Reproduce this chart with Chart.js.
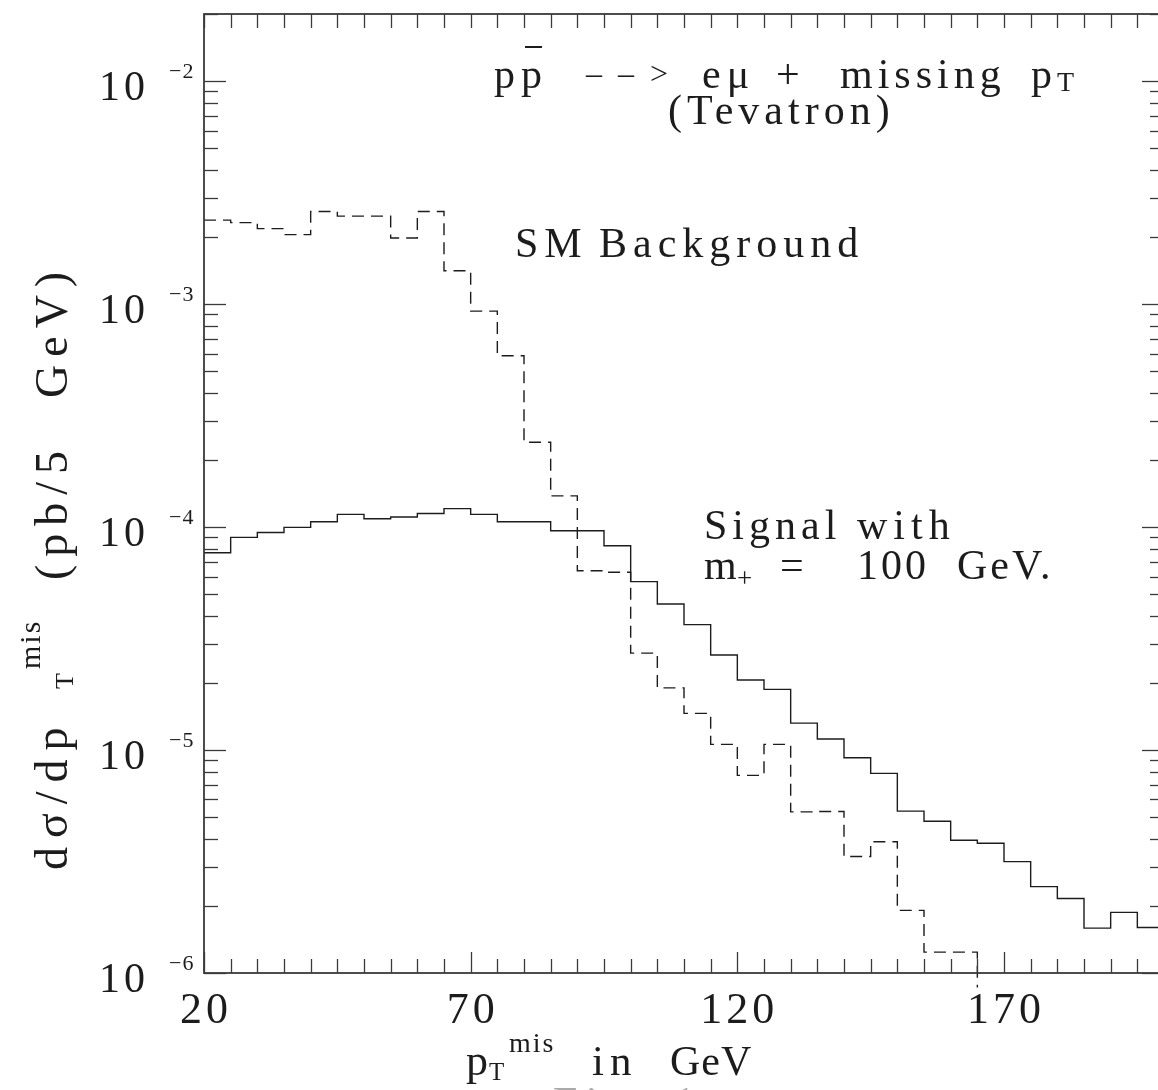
<!DOCTYPE html>
<html>
<head>
<meta charset="utf-8">
<script src="https://cdn.jsdelivr.net/npm/chart.js@4/dist/chart.umd.min.js"></script>
<style>
  html, body { margin: 0; padding: 0; background: #fff; overflow: hidden; }
  #wrap { width: 1180px; height: 1090px; }
</style>
</head>
<body>
<div id="wrap"><canvas id="chart" width="1180" height="1090"></canvas></div>
<script>
// Bins of 5 GeV, left edges
const binStart = [20, 25, 30, 35, 40, 45, 50, 55, 60, 65, 70, 75, 80, 85, 90, 95, 100, 105,
                  110, 115, 120, 125, 130, 135, 140, 145, 150, 155, 160, 165, 170, 175, 180, 185, 190, 195];

// Signal with m+ = 100 GeV (solid)
const signal = [7.67e-5, 8.99e-5, 9.46e-5, 9.97e-5, 1.057e-4, 1.14e-4, 1.09e-4, 1.11e-4, 1.15e-4,
                1.21e-4, 1.14e-4, 1.057e-4, 1.057e-4, 9.63e-5, 9.63e-5, 8.24e-5, 5.69e-5, 4.52e-5,
                3.65e-5, 2.67e-5, 2.06e-5, 1.87e-5, 1.32e-5, 1.12e-5, 9.24e-6, 7.86e-6, 5.32e-6,
                4.79e-6, 3.94e-6, 3.82e-6, 3.16e-6, 2.44e-6, 2.16e-6, 1.59e-6, 1.87e-6, 1.60e-6];

// SM background (dashed), bins 20..160, then it falls below the axis
const background = [2.38e-3, 2.32e-3, 2.18e-3, 2.05e-3, 2.60e-3, 2.48e-3, 2.48e-3, 1.98e-3, 2.60e-3,
                    1.41e-3, 9.3e-4, 5.87e-4, 2.40e-4, 1.38e-4, 6.37e-5, 6.27e-5, 2.72e-5, 1.90e-5,
                    1.46e-5, 1.06e-5, 7.7e-6, 1.06e-5, 5.28e-6, 5.3e-6, 3.33e-6, 3.88e-6, 1.91e-6,
                    1.24e-6, 1.24e-6];
const bgBelowAxis = 8.6e-7;

// Axes
const xMin = 20, xMax = 200, xMinorStep = 5;
const xTickLabels = [20, 70, 120, 170];
const yMin = 1e-6, yMax = 0.02;
const yTickExps = [-2, -3, -4, -5, -6];

const FONT = '"Liberation Serif", "DejaVu Serif", serif';
const INK = '#1c1c1c';

// step points: value holds from left edge to next point
const signalPts = binStart.map((x, i) => ({ x: x, y: signal[i] }));
signalPts.push({ x: xMax, y: signal[signal.length - 1] });
const bgPts = background.map((v, i) => ({ x: binStart[i], y: v }));
bgPts.push({ x: binStart[background.length], y: bgBelowAxis });

function setFont(ctx, size, ls) {
    ctx.font = size + 'px ' + FONT;
    ctx.letterSpacing = (ls || 0) + 'px';
}

function text(ctx, str, x, y, size, ls, align) {
    setFont(ctx, size, ls);
    ctx.textAlign = align || 'left';
    ctx.fillText(str, x, y);
    return ctx.measureText(str).width;
}

function seg(ctx, x1, y1, x2, y2) {
    ctx.beginPath();
    ctx.moveTo(x1, y1);
    ctx.lineTo(x2, y2);
    ctx.stroke();
}

const framePlugin = {
    id: 'frame',
    afterDraw(chart) {
        const { ctx, chartArea: a, scales: { x, y } } = chart;
        ctx.save();
        ctx.strokeStyle = '#3a3a3a';
        ctx.fillStyle = INK;

        // box
        ctx.lineWidth = 1.8;
        ctx.strokeRect(a.left, a.top, a.right - a.left, a.bottom - a.top);

        // x ticks, bottom and top
        ctx.lineWidth = 1.3;
        for (let v = xMin; v <= xMax; v += xMinorStep) {
            const px = Math.round(x.getPixelForValue(v)) + 0.5;
            const major = xTickLabels.includes(v);
            seg(ctx, px, a.bottom, px, a.bottom - (major ? 21 : 14));
            seg(ctx, px, a.top, px, a.top + 14);
        }

        // y ticks, left and right
        for (let e = -6; e <= -2; e++) {
            for (let m = 1; m <= 9; m++) {
                const v = m * Math.pow(10, e);
                if (v > yMax * 1.0001) break;
                const py = Math.round(y.getPixelForValue(v)) + 0.5;
                const len = m === 1 ? 22 : 14;
                seg(ctx, a.left, py, a.left + len, py);
                seg(ctx, a.right, py, a.right - len, py);
            }
        }

        // x tick labels
        xTickLabels.forEach(v => {
            text(ctx, String(v), x.getPixelForValue(v) + 2, a.bottom + 50, 44, 4, 'center');
        });

        // y tick labels 10^e
        yTickExps.forEach(e => {
            const py = y.getPixelForValue(Math.pow(10, e));
            text(ctx, '10', 149, py + 19, 42, 4, 'right');
            text(ctx, '\u2212' + Math.abs(e), 169, py - 3, 22, 1, 'left');
        });

        // x axis title
        text(ctx, 'p', 466, 1075, 44, 0);
        text(ctx, 'T', 489, 1080, 25, 0);
        text(ctx, 'mis', 509, 1052, 28, 2);
        text(ctx, 'in', 592, 1075, 43, 6);
        text(ctx, 'GeV', 670, 1075, 42, 1);

        // y axis title (rotated, reads bottom to top)
        ctx.save();
        ctx.translate(67, 870);
        ctx.rotate(-Math.PI / 2);
        text(ctx, 'd\u03c3/dp', 0, 0, 46, 9);
        text(ctx, 'T', 181, 6, 26, 0);
        text(ctx, 'mis', 201, -27, 30, 2);
        text(ctx, '(pb/5', 290, 0, 46, 8);
        text(ctx, 'GeV)', 472, 0, 46, 8);
        ctx.restore();

        // title
        text(ctx, 'pp', 494, 88, 42, 6);
        ctx.lineWidth = 2;
        ctx.strokeStyle = INK;
        seg(ctx, 525, 47, 542, 47);
        text(ctx, '\u2013 \u2013 >', 586, 84, 32, 4);
        text(ctx, 'e\u03bc', 702, 88, 42, 6);
        text(ctx, '+', 776, 88, 42, 0);
        text(ctx, 'missing', 840, 88, 42, 5);
        text(ctx, 'p', 1031, 88, 42, 0);
        text(ctx, 'T', 1057, 91, 28, 0);
        text(ctx, '(Tevatron)', 668, 124, 42, 5);

        // annotations
        text(ctx, 'SM', 515, 257, 42, 6);
        text(ctx, 'Background', 599, 257, 42, 6);
        text(ctx, 'Signal', 704, 539, 42, 5);
        text(ctx, 'with', 857, 539, 42, 6);
        text(ctx, 'm', 704, 579, 42, 0);
        text(ctx, '+', 737, 587, 27, 0);
        text(ctx, '=', 780, 579, 42, 0);
        text(ctx, '100', 857, 579, 42, 3);
        text(ctx, 'GeV.', 957, 579, 42, 3);

        // caption cut by the page edge
        ctx.fillStyle = '#aaa';
        text(ctx, 'Fig. 1', 553, 1117, 44, 8);

        ctx.restore();
    }
};

new Chart(document.getElementById('chart'), {
    type: 'line',
    data: {
        datasets: [
            {
                label: 'Signal with m+ = 100 GeV.',
                data: signalPts,
                stepped: true,
                borderColor: INK,
                borderWidth: 1.4,
                pointRadius: 0,
                fill: false
            },
            {
                label: 'SM Background',
                data: bgPts,
                stepped: true,
                borderColor: INK,
                borderWidth: 1.4,
                borderDash: [12, 7],
                pointRadius: 0,
                fill: false,
                clip: false
            }
        ]
    },
    options: {
        responsive: false,
        animation: false,
        layout: { padding: { left: 204, top: 14, right: 16, bottom: 117 } },
        plugins: {
            legend: { display: false },
            tooltip: { enabled: false }
        },
        scales: {
            x: { type: 'linear', min: xMin, max: xMax, display: false },
            y: { type: 'logarithmic', min: yMin, max: yMax, display: false }
        }
    },
    plugins: [framePlugin]
});
</script>
</body>
</html>
